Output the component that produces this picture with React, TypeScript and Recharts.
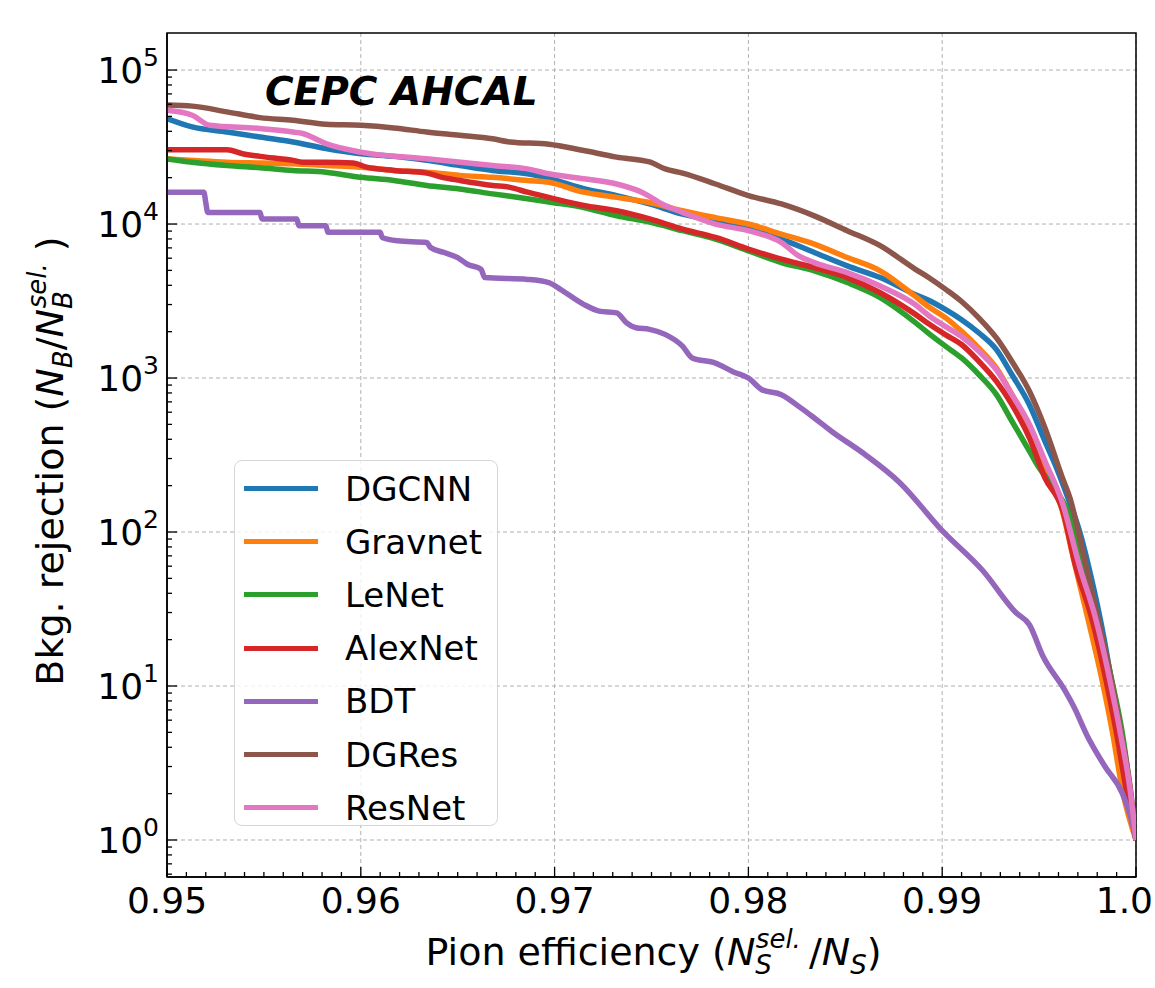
import { LineChart, Line, XAxis, YAxis, CartesianGrid, ReferenceArea, Legend, Label } from 'recharts'

// each series: [pion efficiency, background rejection]
const dgcnn: [number, number][] = [
    [0.95, 48400], [0.9513, 42700], [0.9531, 39600], [0.9548, 36700], [0.9565, 34100], [0.9582, 30900],
    [0.96, 28600], [0.9617, 27500], [0.9634, 25900], [0.9651, 24000], [0.9668, 22300], [0.9686, 21200],
    [0.9697, 19800], [0.9715, 17000], [0.9732, 15300], [0.9749, 13500], [0.9766, 11600], [0.9783, 10500],
    [0.98, 9270], [0.9817, 7980], [0.9834, 6530], [0.9851, 5350], [0.9868, 4490], [0.9886, 3490],
    [0.9893, 3200], [0.9902, 2770], [0.991, 2390], [0.9919, 1960], [0.9928, 1530], [0.9936, 1050],
    [0.9945, 671], [0.9953, 389], [0.9959, 261], [0.9965, 165], [0.9971, 100], [0.9977, 50],
    [0.9983, 22], [0.9991, 5.5], [0.9998, 1.4], [1.0, 1],
]
const gravnet: [number, number][] = [
    [0.95, 26500], [0.9531, 25200], [0.9548, 24900], [0.9565, 24600], [0.9582, 24000], [0.96, 23400],
    [0.9617, 22300], [0.9634, 21700], [0.9651, 20700], [0.9668, 20100], [0.9686, 19200], [0.9697, 18700],
    [0.9715, 16100], [0.9732, 14900], [0.9749, 13800], [0.9766, 12200], [0.9783, 11000], [0.98, 10000],
    [0.9817, 8600], [0.9834, 7410], [0.9851, 6060], [0.9868, 4970], [0.9886, 3400], [0.9893, 2900],
    [0.9902, 2450], [0.991, 2010], [0.9919, 1560], [0.9928, 1160], [0.9936, 780], [0.9945, 475],
    [0.9953, 261], [0.9962, 137], [0.9968, 65], [0.9975, 28], [0.9983, 10.2], [0.9988, 4.9],
    [0.9993, 2.1], [1.0, 1],
]
const lenet: [number, number][] = [
    [0.95, 26500], [0.9513, 25200], [0.9531, 24000], [0.9548, 23200], [0.9565, 22300], [0.9582, 21700],
    [0.96, 20100], [0.9617, 19200], [0.9634, 17800], [0.9651, 16900], [0.9668, 15700], [0.9686, 14600],
    [0.9697, 13900], [0.9715, 12800], [0.9732, 11300], [0.9749, 10300], [0.9766, 9050], [0.9783, 7980],
    [0.98, 6700], [0.9817, 5620], [0.9834, 4970], [0.9851, 4170], [0.9868, 3330], [0.9886, 2300],
    [0.9893, 1950], [0.9902, 1600], [0.991, 1350], [0.9919, 1050], [0.9928, 780], [0.9936, 524],
    [0.9945, 335], [0.995, 261], [0.9957, 200], [0.9965, 135], [0.9972, 70], [0.998, 28],
    [0.9988, 10.2], [0.9993, 4.9], [0.9997, 2.1], [1.0, 1],
]
const alexnet: [number, number][] = [
    [0.95, 30400], [0.9531, 30400], [0.9539, 28600], [0.9548, 27500], [0.9565, 25900], [0.957, 25200],
    [0.9582, 25200], [0.9596, 24900], [0.9603, 23400], [0.9617, 22300], [0.9634, 21400], [0.9642, 20100],
    [0.9651, 19200], [0.9668, 17800], [0.9677, 17300], [0.9686, 16100], [0.9697, 14900], [0.9715, 13200],
    [0.9732, 12200], [0.9749, 10800], [0.9766, 9270], [0.9783, 8180], [0.98, 6870], [0.9817, 5910],
    [0.9834, 5210], [0.9851, 4490], [0.9868, 3580], [0.9886, 2600], [0.9893, 2250], [0.9902, 1900],
    [0.991, 1650], [0.9919, 1280], [0.9928, 950], [0.9936, 671], [0.9945, 408], [0.9953, 225],
    [0.9962, 140], [0.9969, 59], [0.9977, 28], [0.9985, 10.2], [0.999, 4.9], [0.9995, 2.1], [1.0, 1],
]
const bdt: [number, number][] = [
    [0.95, 16100], [0.9519, 16100], [0.952, 13800], [0.9521, 11900], [0.9548, 11900], [0.9549, 10800],
    [0.9567, 10800], [0.9568, 9750], [0.9582, 9750], [0.9583, 8830], [0.961, 8830], [0.9611, 8180],
    [0.9619, 7780], [0.9634, 7590], [0.9636, 7040], [0.9643, 6530], [0.965, 6060], [0.9655, 5480],
    [0.9662, 5090], [0.9664, 4490], [0.9686, 4370], [0.9697, 4170], [0.9703, 3770], [0.9715, 3010],
    [0.9723, 2720], [0.9732, 2650], [0.9737, 2290], [0.9742, 2120], [0.9749, 2070], [0.9757, 1920],
    [0.9766, 1610], [0.9771, 1350], [0.9783, 1250], [0.9792, 1100], [0.98, 1000], [0.9807, 840],
    [0.9817, 780], [0.9827, 640], [0.9834, 550], [0.9843, 450], [0.986, 320], [0.9878, 210],
    [0.99, 102], [0.9921, 56], [0.9938, 30], [0.9945, 25], [0.9952, 15.6], [0.9963, 9.5],
    [0.9968, 7.3], [0.9975, 4.7], [0.9984, 3.0], [0.9993, 2.0], [0.9998, 1.3], [1.0, 1],
]
const dgres: [number, number][] = [
    [0.95, 59200], [0.9513, 58300], [0.9531, 53500], [0.9548, 49100], [0.9565, 47200], [0.9582, 44500],
    [0.96, 43800], [0.9617, 42100], [0.9634, 39600], [0.9651, 37700], [0.9668, 35800], [0.9677, 34100],
    [0.9697, 33000], [0.9715, 30000], [0.9732, 27200], [0.9749, 25300], [0.9757, 22800], [0.9766, 21400],
    [0.9783, 18200], [0.98, 15300], [0.9817, 13500], [0.9834, 11300], [0.9851, 9050], [0.9868, 7230],
    [0.9886, 5100], [0.9893, 4500], [0.9902, 3750], [0.991, 3140], [0.9919, 2450], [0.9928, 1820],
    [0.9936, 1280], [0.9945, 820], [0.9953, 475], [0.9962, 225], [0.9966, 165], [0.9972, 80],
    [0.9979, 33], [0.9987, 11.5], [0.9992, 5.2], [0.9997, 2.2], [1.0, 1],
]
const resnet: [number, number][] = [
    [0.95, 54800], [0.9513, 50900], [0.9522, 43800], [0.9548, 41700], [0.9565, 39600], [0.957, 38700],
    [0.9582, 33300], [0.96, 29300], [0.9634, 26500], [0.9668, 24000], [0.9686, 22800], [0.9697, 21200],
    [0.9715, 19700], [0.9732, 18200], [0.9745, 16100], [0.9757, 13200], [0.9766, 11900], [0.9783, 10000],
    [0.98, 9050], [0.9817, 7590], [0.9826, 6210], [0.9834, 5620], [0.9851, 4840], [0.9868, 3960],
    [0.9886, 3000], [0.9893, 2550], [0.9902, 2150], [0.991, 1860], [0.9919, 1490], [0.9928, 1130],
    [0.9936, 780], [0.9945, 499], [0.9953, 289], [0.9962, 155], [0.9971, 59], [0.9979, 28],
    [0.9987, 10.2], [0.9992, 4.9], [0.9997, 2.1], [1.0, 1],
]

const seriesNames = ['DGCNN', 'Gravnet', 'LeNet', 'AlexNet', 'BDT', 'DGRes', 'ResNet']
const seriesColors = ['#1f77b4', '#ff7f0e', '#2ca02c', '#d62728', '#9467bd', '#8c564b', '#e377c2']
const seriesPoints = [dgcnn, gravnet, lenet, alexnet, bdt, dgres, resnet]

const xMajorTicks = [0.95, 0.96, 0.97, 0.98, 0.99, 1.0]
const xTickLabels = ['0.95', '0.96', '0.97', '0.98', '0.99', '1.0']
const yMajorTicks = [1, 10, 100, 1000, 10000, 100000]
const yTickExponents = ['0', '1', '2', '3', '4', '5']

const xDomain: [number, number] = [0.95, 1.0]
const yDomain: [number, number] = [0.575, 174000]

const FONT = 'DejaVu Sans'

// minor ticks: every 0.001 on x, 2..9 x 10^k on y
const xAllTicks: number[] = []
for (let i = 0; i <= 50; i++) xAllTicks.push(+(0.95 + i * 0.001).toFixed(3))
const yAllTicks: number[] = []
for (let k = -1; k <= 5; k++) {
    for (let m = 1; m <= 9; m++) {
        const v = m * Math.pow(10, k)
        if (v >= yDomain[0] && v <= yDomain[1]) yAllTicks.push(v)
    }
}

const XTick = (props: any) => {
    const { x, y, payload } = props
    const idx = xMajorTicks.findIndex(t => Math.abs(t - payload.value) < 1e-9)
    const major = idx >= 0
    const last = idx === xMajorTicks.length - 1
    return (
        <g>
            <line x1={x} x2={x} y1={y} y2={y - (major ? 10 : 5)} stroke="#000" strokeWidth={1.3} />
            {major && (
                <text
                    x={last ? x + 17 : x}
                    y={y + 36}
                    textAnchor={last ? 'end' : 'middle'}
                    fontSize={36}
                    fontFamily={FONT}
                    fill="#000"
                >
                    {xTickLabels[idx]}
                </text>
            )}
        </g>
    )
}

const YTick = (props: any) => {
    const { x, y, payload } = props
    const idx = yMajorTicks.findIndex(t => Math.abs(t - payload.value) / t < 1e-6)
    const major = idx >= 0
    return (
        <g>
            <line x1={x} x2={x + (major ? 10 : 5)} y1={y} y2={y} stroke="#000" strokeWidth={1.3} />
            {major && (
                <text x={x - 8} y={y + 13} textAnchor="end" fontSize={36} fontFamily={FONT} fill="#000">
                    10
                    <tspan fontSize={25} dy={-17}>{yTickExponents[idx]}</tspan>
                </text>
            )}
        </g>
    )
}

const XLabel = (props: any) => {
    const { viewBox } = props
    const cx = viewBox.x + viewBox.width / 2 + 2
    return (
        <text x={cx} y={viewBox.y + 88} textAnchor="middle" fontSize={38} fontFamily={FONT} fill="#000">
            Pion efficiency (
            <tspan fontStyle="italic">N</tspan>
            <tspan fontStyle="italic" fontSize={26} dy={9}>S</tspan>
            <tspan fontStyle="italic" fontSize={26} dx={-16} dy={-26}>sel.</tspan>
            <tspan dy={17} dx={8}>/</tspan>
            <tspan fontStyle="italic">N</tspan>
            <tspan fontStyle="italic" fontSize={26} dy={9}>S</tspan>
            <tspan dy={-9}>)</tspan>
        </text>
    )
}

const YLabel = () => {
    const cx = 63
    const cy = 461
    return (
        <text x={cx} y={cy} transform={`rotate(-90 ${cx} ${cy})`} textAnchor="middle" fontSize={38} fontFamily={FONT} fill="#000">
            Bkg. rejection (
            <tspan fontStyle="italic">N</tspan>
            <tspan fontStyle="italic" fontSize={26} dy={9}>B</tspan>
            <tspan dy={-9}>/</tspan>
            <tspan fontStyle="italic">N</tspan>
            <tspan fontStyle="italic" fontSize={26} dy={9}>B</tspan>
            <tspan fontStyle="italic" fontSize={26} dx={-17} dy={-26}>sel.</tspan>
            <tspan dy={17}> )</tspan>
        </text>
    )
}

const renderLegend = () => (
    <div
        style={{
            boxSizing: 'border-box',
            width: 264,
            height: 366,
            border: '1.5px solid #d6d6d6',
            borderRadius: 8,
            background: 'rgba(255,255,255,0.8)',
            paddingTop: 1,
        }}
    >
        {seriesNames.map((name, i) => (
            <div key={name} style={{ display: 'flex', alignItems: 'center', height: 53.2 }}>
                <div style={{ width: 74, height: 5, marginLeft: 9, background: seriesColors[i] }}></div>
                <span style={{ marginLeft: 27, fontSize: 34, fontFamily: FONT, color: '#000', lineHeight: 1 }}>
                    {name}
                </span>
            </div>
        ))}
    </div>
)

export default function App() {
    return (
        <div style={{ position: 'absolute', left: 0, top: 0, width: 1155, height: 988, background: '#fff' }}>
            <LineChart width={1155} height={988} margin={{ top: 33, right: 19, left: 0, bottom: 0 }}>
                <CartesianGrid
                    horizontalValues={yMajorTicks}
                    verticalValues={xMajorTicks}
                    stroke="#b0b0b0"
                    strokeDasharray="4 3"
                    strokeWidth={1}
                />
                <XAxis
                    type="number"
                    dataKey="x"
                    domain={xDomain}
                    allowDataOverflow
                    ticks={xAllTicks}
                    interval={0}
                    tickSize={0}
                    tickMargin={0}
                    tickLine={false}
                    tick={<XTick />}
                    height={111}
                    axisLine={{ stroke: '#000', strokeWidth: 1.5 }}
                >
                    <Label content={<XLabel />} />
                </XAxis>
                <YAxis
                    type="number"
                    scale="log"
                    domain={yDomain}
                    allowDataOverflow
                    ticks={yAllTicks}
                    interval={0}
                    tickSize={0}
                    tickMargin={0}
                    tickLine={false}
                    tick={<YTick />}
                    width={167}
                    axisLine={{ stroke: '#000', strokeWidth: 1.5 }}
                >
                    <Label content={<YLabel />} />
                </YAxis>
                {seriesPoints.map((pts, i) => (
                    <Line
                        key={seriesNames[i]}
                        name={seriesNames[i]}
                        data={pts.map(([x, y]) => ({ x, y }))}
                        dataKey="y"
                        type="monotoneX"
                        stroke={seriesColors[i]}
                        strokeWidth={5.5}
                        strokeLinejoin="round"
                        dot={false}
                        activeDot={false}
                        isAnimationActive={false}
                    />
                ))}
                <ReferenceArea
                    x1={xDomain[0]}
                    x2={xDomain[1]}
                    y1={yDomain[0]}
                    y2={yDomain[1]}
                    fill="none"
                    fillOpacity={0}
                    stroke="#000"
                    strokeWidth={1.5}
                    ifOverflow="visible"
                />
                <Legend
                    layout="vertical"
                    verticalAlign="middle"
                    align="center"
                    wrapperStyle={{ left: 234, top: 460, width: 264, height: 366 }}
                    content={renderLegend}
                />
            </LineChart>
            <svg width={1155} height={988} style={{ position: 'absolute', left: 0, top: 0, pointerEvents: 'none' }}>
                <text x={265} y={105} fontSize={39} fontWeight="bold" fontStyle="italic" fontFamily={FONT} fill="#000">
                    CEPC AHCAL
                </text>
            </svg>
        </div>
    )
}
